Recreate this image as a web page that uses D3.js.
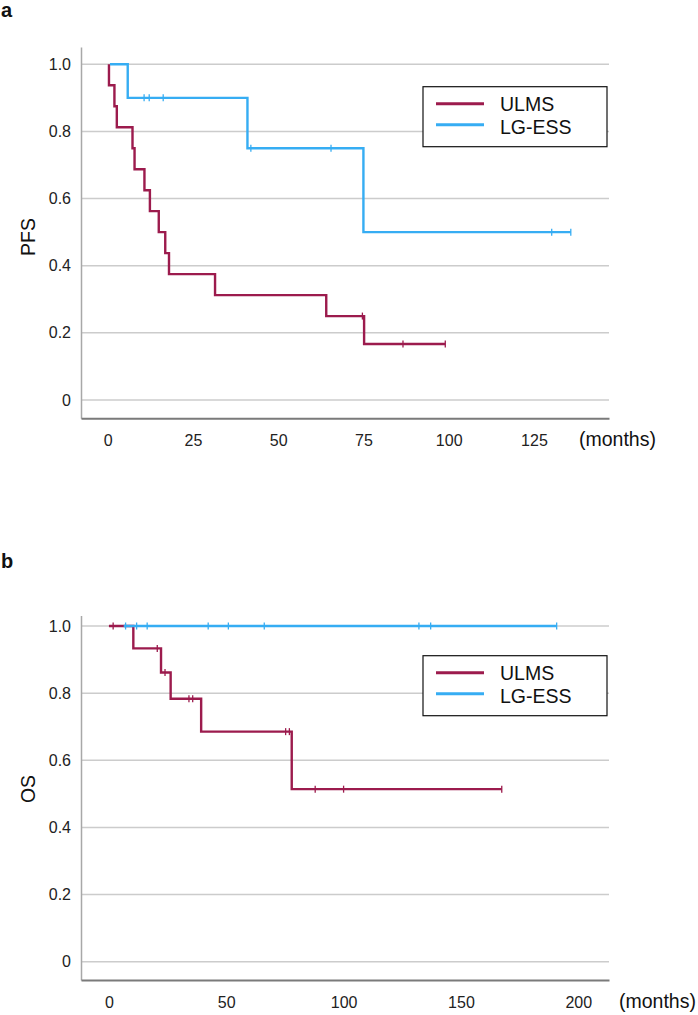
<!DOCTYPE html>
<html>
<head>
<meta charset="utf-8">
<script src="https://cdn.jsdelivr.net/npm/d3@7"></script>
<style>
    body { margin: 0; background: #fff; }
    svg { display: block; font-family: "Liberation Sans", Arial, sans-serif; }
    .grid line { stroke: #cccccc; stroke-width: 1.5; }
    .axis text { fill: #222; font-size: 16px; }
    .yaxis .domain { stroke: #a8a8a8; stroke-width: 1.5; }
    .xaxis .domain { stroke: #7a7a7a; stroke-width: 2; }
    .km { fill: none; stroke-width: 2.4; }
    .cens { stroke-width: 1.3; }
    .title { font-size: 19.5px; fill: #111; }
    .tag { font-size: 20px; font-weight: bold; fill: #111; }
    .legend text { font-size: 19.5px; fill: #111; }
</style>
</head>
<body>
<svg id="plate" width="698" height="1015"></svg>
<script>
// series names + colours
var groups = ['ULMS', 'LG-ESS'];
var colors = ['#9c1b4d', '#36adf3'];

// axis ticks
var yTicks = [0, 0.2, 0.4, 0.6, 0.8, 1.0];
var pfsXTicks = [0, 25, 50, 75, 100, 125];
var osXTicks = [0, 50, 100, 150, 200];

// panel a (PFS) - step points: time (months), survival after that time
var pfsUlmsTime = [0.4, 0.4, 2.0, 2.7, 7.3, 7.9, 10.8, 12.4, 15.0, 16.9, 18.0, 31.5, 64.1, 75.2, 99.0];
var pfsUlmsSurv = [1, 0.9375, 0.875, 0.8125, 0.75, 0.6875, 0.625, 0.5625, 0.5, 0.4375, 0.375, 0.3125, 0.25, 0.1667, 0.1667];
var pfsUlmsCens = [74.7, 86.6, 99.0];

var pfsEssTime = [0.7, 5.9, 41.0, 75.0, 135.8];
var pfsEssSurv = [1, 0.9, 0.75, 0.5, 0.5];
var pfsEssCens = [10.7, 12.2, 16.3, 42.0, 65.5, 130.2, 135.8];

// panel b (OS)
var osUlmsTime = [0, 10.4, 22.2, 26.3, 39.3, 77.9, 167.4];
var osUlmsSurv = [1, 0.9333, 0.8615, 0.7832, 0.6853, 0.5139, 0.5139];
var osUlmsCens = [1.8, 20.6, 23.9, 34.1, 35.7, 75.3, 76.9, 87.9, 100.0, 167.4];

var osEssTime = [6.3, 190.8];
var osEssSurv = [1, 1];
var osEssCens = [7.1, 11.8, 16.3, 42.3, 50.9, 66.2, 132.1, 137.1, 190.8];

var svg = d3.select('#plate');
svg.append('rect').attr('width', 698).attr('height', 1015).attr('fill', '#fff');

function survAt(times, surv, t) {
    var i = d3.bisectRight(times, t) - 1;
    return surv[Math.max(i, 0)];
}

function drawPanel(p) {
    var g = svg.append('g');
    var x = d3.scaleLinear().domain(p.xDomain).range([81, 609]);
    var y = d3.scaleLinear().domain(p.yDomain).range([p.bottom, p.top]);

    // gridlines
    g.append('g')
        .attr('class', 'grid')
        .selectAll('line')
        .data(yTicks)
        .join('line')
        .attr('x1', 81)
        .attr('x2', 609)
        .attr('y1', (d) => y(d))
        .attr('y2', (d) => y(d));

    // y axis
    g.append('g')
        .attr('class', 'axis yaxis')
        .attr('transform', 'translate(81,0)')
        .call(d3.axisLeft(y).tickValues(yTicks).tickSize(0).tickSizeOuter(0).tickPadding(10)
            .tickFormat((d) => (d === 0 ? '0' : d3.format('.1f')(d))));

    // x axis
    g.append('g')
        .attr('class', 'axis xaxis')
        .attr('transform', 'translate(0,' + p.bottom + ')')
        .call(d3.axisBottom(x).tickValues(p.xTicks).tickSize(0).tickSizeOuter(0).tickPadding(16.5));
    svg.selectAll('.axis').attr('font-family', null).attr('font-size', null);

    var line = d3.line()
        .x((d) => x(d[0]))
        .y((d) => y(d[1]))
        .curve(d3.curveStepAfter);

    p.series.forEach(function (s, k) {
        var pts = s.time.map((t, i) => [t, s.surv[i]]);
        g.append('path')
            .datum(pts)
            .attr('class', 'km')
            .attr('stroke', colors[k])
            .attr('d', line);
        g.selectAll(null)
            .data(s.cens)
            .join('line')
            .attr('class', 'cens')
            .attr('stroke', colors[k])
            .attr('x1', (d) => x(d))
            .attr('x2', (d) => x(d))
            .attr('y1', (d) => y(survAt(s.time, s.surv, d)) - 3.5)
            .attr('y2', (d) => y(survAt(s.time, s.surv, d)) + 3.5);
    });

    // titles
    g.append('text')
        .attr('class', 'title')
        .attr('text-anchor', 'middle')
        .attr('transform', 'translate(' + 35 + ',' + p.yTitleY + ') rotate(-90)')
        .text(p.yTitle);
    g.append('text')
        .attr('class', 'title')
        .attr('x', p.monthsX)
        .attr('y', p.bottom + 28)
        .text('(months)');
    g.append('text')
        .attr('class', 'tag')
        .attr('x', 1)
        .attr('y', p.tagY)
        .text(p.tag);

    // legend
    var lg = g.append('g')
        .attr('class', 'legend')
        .attr('transform', 'translate(423,' + p.legendTop + ')');
    lg.append('rect')
        .attr('width', 184)
        .attr('height', 60)
        .attr('fill', '#fff')
        .attr('stroke', '#111')
        .attr('stroke-width', 1.2);
    groups.forEach(function (name, k) {
        lg.append('line')
            .attr('x1', 13).attr('x2', 61)
            .attr('y1', 17 + k * 21).attr('y2', 17 + k * 21)
            .attr('stroke', colors[k])
            .attr('stroke-width', 3);
        lg.append('text')
            .attr('x', 77)
            .attr('y', 24.5 + k * 23.3)
            .text(name);
    });
}

drawPanel({
    tag: 'a', tagY: 17,
    top: 47, bottom: 418.3,
    xDomain: [-7.8, 147], yDomain: [-0.0545, 1.0515],
    xTicks: pfsXTicks,
    yTitle: 'PFS', yTitleY: 237,
    monthsX: 579,
    legendTop: 86.7,
    series: [
        {time: pfsUlmsTime, surv: pfsUlmsSurv, cens: pfsUlmsCens},
        {time: pfsEssTime, surv: pfsEssSurv, cens: pfsEssCens}
    ]
});

drawPanel({
    tag: 'b', tagY: 568,
    top: 615.5, bottom: 980,
    xDomain: [-11.9, 213.1], yDomain: [-0.0546, 1.0313],
    xTicks: osXTicks,
    yTitle: 'OS', yTitleY: 789,
    monthsX: 619,
    legendTop: 655.7,
    series: [
        {time: osUlmsTime, surv: osUlmsSurv, cens: osUlmsCens},
        {time: osEssTime, surv: osEssSurv, cens: osEssCens}
    ]
});
</script>
</body>
</html>
